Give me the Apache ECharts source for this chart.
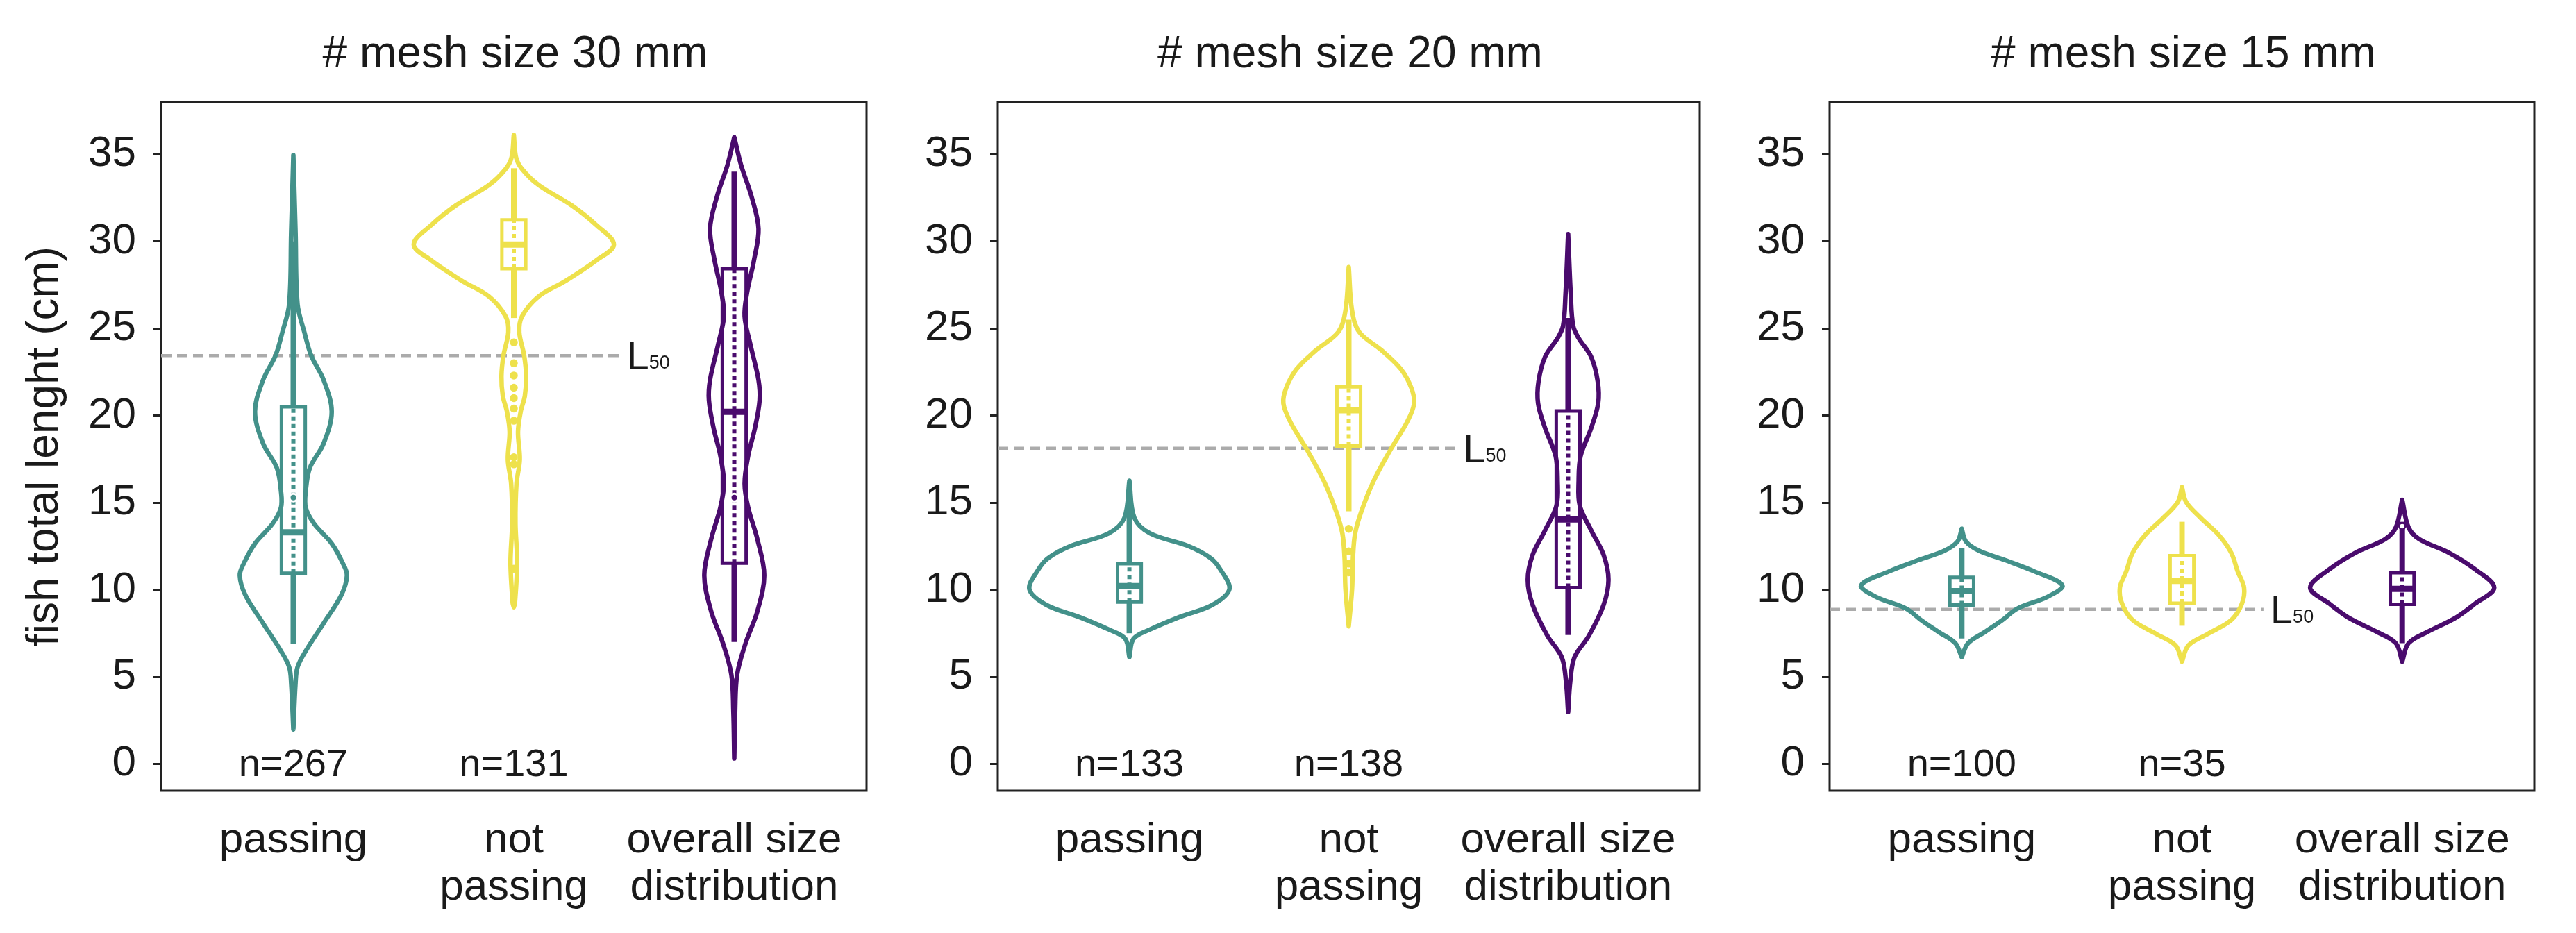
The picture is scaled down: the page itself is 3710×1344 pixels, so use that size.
<!DOCTYPE html>
<html>
<head>
<meta charset="utf-8">
<script src="https://cdn.jsdelivr.net/npm/echarts@6/dist/echarts.min.js"></script>
<style>
html,body{margin:0;padding:0;background:#fff;}
#chart{width:3710px;height:1344px;}
</style>
</head>
<body>
<div id="chart"></div>
<script>
// ---------------- data ----------------
const panelTitles = ['# mesh size 30 mm', '# mesh size 20 mm', '# mesh size 15 mm'];
const categories = ['passing', 'not\npassing', 'overall size\ndistribution'];
const yTicks = [0, 5, 10, 15, 20, 25, 30, 35];
const sampleSizes = [[267, 131, null], [133, 138, null], [100, 35, null]];
const l50Values = [23.44, 18.12, 8.87];

// violin outlines: [length (cm), half width (category units)]
const violin30Passing = [[1.98,0],[4.65,0.010],[5.56,0.019],[6.48,0.056],[8.07,0.137],[9.70,0.218],[10.82,0.243],[11.53,0.224],[12.65,0.174],[13.81,0.093],[14.72,0.056],[15.64,0.056],[17.0,0.075],[18.39,0.137],[20.22,0.174],[22.05,0.137],[23.44,0.081],[24.78,0.050],[26.39,0.019],[30.49,0.010],[34.95,0]];
const violin30NotPassing = [[9.0,0],[9.22,0.005],[11.53,0.015],[13.81,0.0075],[16.08,0.012],[17.47,0.027],[19.06,0.019],[20.22,0.031],[21.13,0.050],[22.26,0.056],[23.44,0.047],[24.78,0.025],[25.69,0.037],[26.83,0.112],[27.74,0.236],[28.90,0.373],[29.82,0.454],[30.95,0.373],[32.08,0.261],[33.24,0.112],[34.16,0.037],[34.83,0.010],[36.11,0]];
const violin30Overall = [[0.31,0],[3.0,0.004],[5.12,0.013],[6.95,0.052],[8.77,0.105],[10.83,0.136],[12.89,0.105],[14.72,0.063],[16.09,0.047],[17.69,0.063],[19.29,0.094],[20.89,0.115],[22.04,0.110],[24.09,0.073],[25.69,0.047],[27.06,0.058],[28.89,0.089],[30.72,0.110],[32.55,0.079],[34.38,0.031],[35.98,0]];

const violin20Passing = [[6.12,0],[7.19,0.019],[7.72,0.095],[8.43,0.228],[9.14,0.380],[10.03,0.456],[11.10,0.418],[11.81,0.371],[12.52,0.266],[13.23,0.095],[14.12,0.023],[16.26,0]];
const violin20NotPassing = [[7.90,0],[10.03,0.015],[11.81,0.019],[13.23,0.029],[14.48,0.057],[16.26,0.114],[18.03,0.190],[19.63,0.266],[20.70,0.298],[21.59,0.285],[22.66,0.238],[23.72,0.152],[24.79,0.048],[26.03,0.015],[28.52,0]];
const violin20Overall = [[2.97,0],[4.70,0.0095],[6.12,0.029],[7.37,0.095],[9.14,0.162],[10.57,0.184],[11.99,0.162],[13.41,0.105],[14.83,0.053],[16.26,0.048],[17.68,0.057],[19.28,0.105],[20.70,0.137],[21.95,0.135],[23.37,0.105],[24.44,0.048],[25.15,0.023],[26.93,0.012],[30.42,0]];

const violin15Passing = [[6.13,0],[6.93,0.029],[7.59,0.107],[8.26,0.185],[8.92,0.253],[9.59,0.389],[10.25,0.457],[11.05,0.330],[11.71,0.194],[12.24,0.078],[12.77,0.019],[13.50,0]];
const violin15NotPassing = [[5.87,0],[6.80,0.029],[7.46,0.117],[8.26,0.224],[9.19,0.272],[10.12,0.282],[11.05,0.253],[12.11,0.224],[13.17,0.165],[14.10,0.087],[15.03,0.019],[15.89,0]];
const violin15Overall = [[5.87,0],[6.93,0.029],[7.59,0.117],[8.39,0.243],[9.19,0.330],[10.12,0.418],[11.18,0.330],[12.11,0.214],[12.90,0.078],[13.57,0.029],[15.16,0]];

// box statistics: [lower quartile, median, upper quartile]
const boxes30 = [[10.95, 13.3, 20.5], [28.43, 29.82, 31.23], [11.52, 20.21, 28.43]];
const boxes20 = [[9.29, 10.21, 11.49], [18.25, 20.3, 21.65], [10.12, 14.03, 20.26]];
const boxes15 = [[9.12, 9.92, 10.71], [9.22, 10.51, 11.95], [9.16, 10.05, 10.98]];
// whisker / point column range: [low, high]
const whiskers30 = [[6.9, 30.0], [25.6, 34.2], [7.0, 34.0]];
const whiskers20 = [[7.5, 14.8], [14.5, 25.5], [7.4, 25.6]];
const whiskers15 = [[7.2, 12.37], [7.93, 13.9], [6.93, 13.9]];
const means30 = [15.29, null, 15.29];
const means20 = [null, null, null];
const means15 = [null, null, null];
// isolated points below / above the whiskers
const outliers30 = [[], [24.2, 23.0, 22.3, 21.6, 21.0, 20.4, 19.7, 17.6, 17.2, 11.2], []];
const outliers20 = [[], [13.5, 12.2, 11.5, 11.0], []];
const outliers15 = [[], [], [13.65]];

// ---------------- style / layout ----------------
const colors = ['#43918a', '#eee14c', '#4a0b6d'];
const textColor = '#1a1a1a';
const fontFamily = '"Liberation Sans", Arial, sans-serif';
const grids = [
  {left: 232, top: 147, width: 1016, height: 992},
  {left: 1437, top: 147, width: 1011, height: 992},
  {left: 2635, top: 147, width: 1015, height: 992}
];
const l50LineEnd = [2.48, 2.49, 2.37];
const boxHalf = 0.054;

const panels = [
  {violins: [violin30Passing, violin30NotPassing, violin30Overall], boxes: boxes30, whiskers: whiskers30, means: means30, outliers: outliers30},
  {violins: [violin20Passing, violin20NotPassing, violin20Overall], boxes: boxes20, whiskers: whiskers20, means: means20, outliers: outliers20},
  {violins: [violin15Passing, violin15NotPassing, violin15Overall], boxes: boxes15, whiskers: whiskers15, means: means15, outliers: outliers15}
];

const chart = echarts.init(document.getElementById('chart'), null, {renderer: 'canvas'});

function violinRenderer(p) {
  const panel = panels[p];
  return function (params, api) {
    const i = params.dataIndex;
    const x = api.value(0);
    const col = colors[i];
    const prof = panel.violins[i];
    const right = prof.map(d => api.coord([x + d[1], d[0]]));
    const left = prof.slice().reverse().map(d => api.coord([x - d[1], d[0]]));
    const children = [];
    children.push({type: 'polygon', shape: {points: right.concat(left), smooth: 0.35},
      style: {fill: 'none', stroke: col, lineWidth: 6.5, lineJoin: 'round'}});
    const b = panel.boxes[i], w = panel.whiskers[i];
    const c = (v) => api.coord([x, v]);
    children.push({type: 'line', shape: {x1: c(w[0])[0], y1: c(w[0])[1], x2: c(b[0])[0], y2: c(b[0])[1]},
      style: {stroke: col, lineWidth: 8}});
    children.push({type: 'line', shape: {x1: c(b[2])[0], y1: c(b[2])[1], x2: c(w[1])[0], y2: c(w[1])[1]},
      style: {stroke: col, lineWidth: 8}});
    children.push({type: 'line', shape: {x1: c(b[0])[0], y1: c(b[0])[1], x2: c(b[2])[0], y2: c(b[2])[1]},
      style: {stroke: col, lineWidth: 6, lineDash: [6, 5]}});
    const tl = api.coord([x - boxHalf, b[2]]), br = api.coord([x + boxHalf, b[0]]);
    children.push({type: 'rect', shape: {x: tl[0], y: tl[1], width: br[0] - tl[0], height: br[1] - tl[1]},
      style: {fill: 'none', stroke: col, lineWidth: 5}});
    const m1 = api.coord([x - boxHalf, b[1]]), m2 = api.coord([x + boxHalf, b[1]]);
    children.push({type: 'line', shape: {x1: m1[0], y1: m1[1], x2: m2[0], y2: m2[1]},
      style: {stroke: col, lineWidth: 9}});
    if (panel.means[i] != null) {
      const mp = c(panel.means[i]);
      children.push({type: 'circle', shape: {cx: mp[0], cy: mp[1], r: 5.5}, style: {fill: col, stroke: '#fff', lineWidth: 3}});
    }
    panel.outliers[i].forEach(v => {
      const op = c(v);
      children.push({type: 'circle', shape: {cx: op[0], cy: op[1], r: 4.5}, style: {fill: i === 2 ? '#fff' : col, stroke: col, lineWidth: 2.5}});
    });
    const n = sampleSizes[p][i];
    if (n != null) {
      const np = c(0);
      children.push({type: 'text', x: np[0], y: np[1] + 2,
        style: {text: 'n=' + n, fill: textColor, font: '56px ' + fontFamily, textAlign: 'center', textVerticalAlign: 'middle'}});
    }
    return {type: 'group', children: children};
  };
}

function l50Renderer(p) {
  return function (params, api) {
    const v = api.value(0);
    const a = api.coord([0.4, v]);
    const e = api.coord([l50LineEnd[p], v]);
    return {type: 'group', children: [
      {type: 'line', shape: {x1: a[0], y1: a[1], x2: e[0], y2: e[1]},
        style: {stroke: '#ababab', lineWidth: 4.5, lineDash: [15, 8]}},
      {type: 'text', x: e[0] + 10, y: e[1] + 4,
        style: {text: '{l|L}{s|50}', textVerticalAlign: 'middle', textAlign: 'left',
          rich: {l: {fontSize: 58, fontFamily: fontFamily, fill: textColor, color: textColor, verticalAlign: 'bottom'},
                 s: {fontSize: 27, fontFamily: fontFamily, fill: textColor, color: textColor, verticalAlign: 'bottom', padding: [0, 0, 8, 0]}}}}
    ]};
  };
}

const option = {
  backgroundColor: '#fff',
  animation: false,
  title: panelTitles.map((t, p) => ({
    text: t, left: grids[p].left + grids[p].width / 2 - 3, top: 42, textAlign: 'center',
    textStyle: {fontSize: 64, fontWeight: 'normal', color: textColor, fontFamily: fontFamily}
  })),
  grid: grids.map(g => Object.assign({show: true, borderColor: '#222', borderWidth: 3, containLabel: false}, g)),
  xAxis: grids.map((g, p) => ({
    type: 'value', gridIndex: p, min: 0.4, max: 3.6,
    axisLine: {show: false}, axisTick: {show: false}, splitLine: {show: false},
    axisLabel: {customValues: [1, 2, 3], formatter: v => categories[Math.round(v) - 1],
      fontSize: 62, lineHeight: 68, color: textColor, fontFamily: fontFamily, margin: 38, align: 'center', verticalAlign: 'top'}
  })),
  yAxis: grids.map((g, p) => ({
    type: 'value', gridIndex: p, min: -1.54, max: 38,
    name: p === 0 ? 'fish total lenght (cm)' : '', nameLocation: 'middle', nameGap: 135, nameRotate: 90,
    nameTextStyle: {fontSize: 64, color: textColor, fontFamily: fontFamily},
    axisLine: {show: false}, splitLine: {show: false},
    axisTick: {show: true, length: 11, inside: false, customValues: yTicks, lineStyle: {color: '#222', width: 3}},
    axisLabel: {customValues: yTicks, fontSize: 62, color: textColor, fontFamily: fontFamily, margin: 36}
  })),
  series: [].concat(
    grids.map((g, p) => ({type: 'custom', xAxisIndex: p, yAxisIndex: p, renderItem: l50Renderer(p), data: [[l50Values[p]]], z: 1, silent: true})),
    grids.map((g, p) => ({type: 'custom', xAxisIndex: p, yAxisIndex: p, renderItem: violinRenderer(p), data: [[1, 0], [2, 0], [3, 0]], encode: {x: 0, y: 1}, z: 2, silent: true}))
  )
};
chart.setOption(option);
</script>
</body>
</html>
